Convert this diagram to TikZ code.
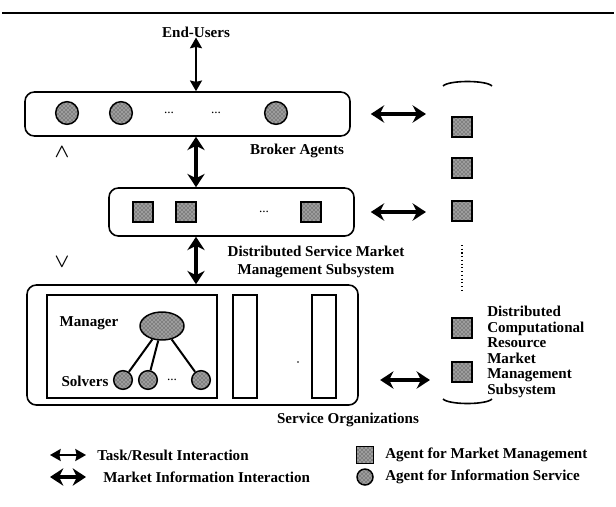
\documentclass[tikz,border=0pt]{standalone}
\usepackage{fontspec}
\setmainfont{Liberation Serif}
\usetikzlibrary{arrows.meta,patterns,shapes.geometric,positioning}

\tikzstyle{layerbox} = [draw=black, line width=1.2pt, rectangle, rounded corners=7pt, inner sep=0pt]
\tikzstyle{orgbox} = [draw=black, line width=1.1pt, rectangle, inner sep=0pt]
\tikzstyle{checkfill} = [preaction={fill=black!50}, pattern=crosshatch dots, pattern color=white]
\tikzstyle{mmagent} = [draw=black, line width=1.1pt, rectangle, minimum size=15pt, inner sep=0pt,
    checkfill]
\tikzstyle{isagent} = [draw=black, line width=1.1pt, circle, minimum size=17pt, inner sep=0pt,
    checkfill]
\tikzstyle{taskarrow} = [line width=1.5pt, {Stealth[length=8pt,width=9pt,inset=1pt]}-{Stealth[length=8pt,width=9pt,inset=1pt]}]
\tikzstyle{marketarrow} = [line width=3.2pt, {Stealth[length=10pt,width=13pt]}-{Stealth[length=10pt,width=13pt]}]
\tikzstyle{mylabel} = [font=\bfseries\fontsize{11.3}{13}\selectfont, inner sep=0pt]
\tikzstyle{dotlabel} = [font=\fontsize{10}{12}\selectfont, inner sep=0pt]

\begin{document}
\begin{tikzpicture}[x=0.75pt, y=-0.75pt]
\useasboundingbox (0,0) rectangle (616,506);
\draw[line width=1.1pt] (2,13) -- (614,13);

% broker agents
\node[layerbox, minimum width=243.75pt, minimum height=33pt] (broker) at (187.5,114) {};
\node[isagent] (ba1) at (67,113) {};
\node[isagent] (ba2) at (121,113) {};
\node[isagent] (ba3) at (276,113) {};
\node[dotlabel] at (169,113) {...};
\node[dotlabel] at (216,113) {...};
\node[mylabel] (endusers) at (196,32) {End-Users};
\node[mylabel] (brokerlabel) at (297,151) {Broker Agents};
\node[mylabel, font=\Large\boldmath] (uparrowhead) at (62,152) {$\wedge$};

% service market
\node[layerbox, minimum width=183.75pt, minimum height=36pt] (market) at (231.5,212) {};
\node[mmagent] (sm1) at (143,212) {};
\node[mmagent] (sm2) at (186,212) {};
\node[mmagent] (sm3) at (311,212) {};
\node[dotlabel] at (264,212) {...};
\node[mylabel, align=center] (marketlabel) at (316,262) {Distributed Service Market\\Management Subsystem};
\node[mylabel, font=\Large\boldmath] (downarrowhead) at (62,262) {$\vee$};

% service organizations
\node[layerbox, minimum width=248.25pt, minimum height=90pt] (serviceorg) at (192.5,345) {};
\node[orgbox, minimum width=127.5pt, minimum height=77.25pt] (org1) at (132,346.5) {};
\node[orgbox, minimum width=18pt, minimum height=77.25pt] (org2) at (245,346.5) {};
\node[orgbox, minimum width=18pt, minimum height=77.25pt] (org3) at (324,346.5) {};
\fill (298,362) circle (0.7pt);
\node[draw=black, line width=1.1pt, ellipse, minimum width=33pt, minimum height=21pt, inner sep=0pt,
    checkfill] (manager) at (162,326) {};
\node[mylabel] (managerlabel) at (89,323) {Manager};
\node[isagent, minimum size=14pt] (solver1) at (123,380) {};
\node[isagent, minimum size=14pt] (solver2) at (148,380) {};
\node[isagent, minimum size=14pt] (solver3) at (201,380) {};
\node[dotlabel] at (172,380) {...};
\node[mylabel] (solverslabel) at (85,381) {Solvers};
\draw[line width=1.5pt] (manager) -- (solver1);
\draw[line width=1.5pt] (manager) -- (solver2);
\draw[line width=1.5pt] (manager) -- (solver3);
\node[mylabel] (orglabel) at (348,420) {Service Organizations};

% computational resource market
\draw[line width=1.2pt] (443,86) .. controls (449,80) and (486,80) .. (492,86);
\draw[line width=1.2pt] (443,399) .. controls (449,405) and (486,405) .. (492,399);
\node[mmagent] (rsq1) at (462,127) {};
\node[mmagent] (rsq2) at (462,168) {};
\node[mmagent] (rsq3) at (462,211) {};
\node[mmagent] (rsq4) at (462,328) {};
\node[mmagent] (rsq5) at (462,372) {};
\coordinate (dottop) at (462,245);
\coordinate (dotbot) at (462,290);
\draw[thick, dotted] (dottop) -- (dotbot);
\node[mylabel, align=left, anchor=north west, font=\bfseries\fontsize{11.3}{11.6}\selectfont]
    (resourcelabel) at (487,306) {Distributed\\Computational\\Resource\\Market\\Management\\Subsystem};

% interactions
\draw[taskarrow] (endusers) -- (broker.north -| endusers);
\draw[marketarrow] (broker.south -| endusers) -- (market.north -| endusers);
\draw[marketarrow] (market.south -| endusers) -- (serviceorg.north -| endusers);
\draw[marketarrow, shorten <=15pt, shorten >=19pt] (broker.east) -- (broker.east -| rsq1.west);
\draw[marketarrow, shorten <=12pt, shorten >=19pt] (market.east) -- (market.east -| rsq3.west);
\draw[marketarrow, shorten <=16pt, shorten >=16pt] (serviceorg.east |- solver1) -- (solver1 -| rsq5.west);

% legend
\coordinate (lega) at (50,455);
\coordinate (legb) at (86,455);
\coordinate (legc) at (50,477);
\coordinate (legd) at (86,477);
\draw[taskarrow] (lega) -- (legb);
\draw[marketarrow] (legc) -- (legd);
\node[mylabel, anchor=west] (tasklabel) at (97,455) {Task/Result Interaction};
\node[mylabel, anchor=west] (infolabel) at (103,477) {Market Information Interaction};
\node[mmagent, minimum size=13pt] (legsq) at (365,455) {};
\node[isagent, minimum size=12pt] (legci) at (365,477) {};
\node[mylabel, anchor=west] (mmlabel) at (385,455) {Agent for Market Management};
\node[mylabel, anchor=west] (islabel) at (385,477) {Agent for Information Service};
\end{tikzpicture}
\end{document}
